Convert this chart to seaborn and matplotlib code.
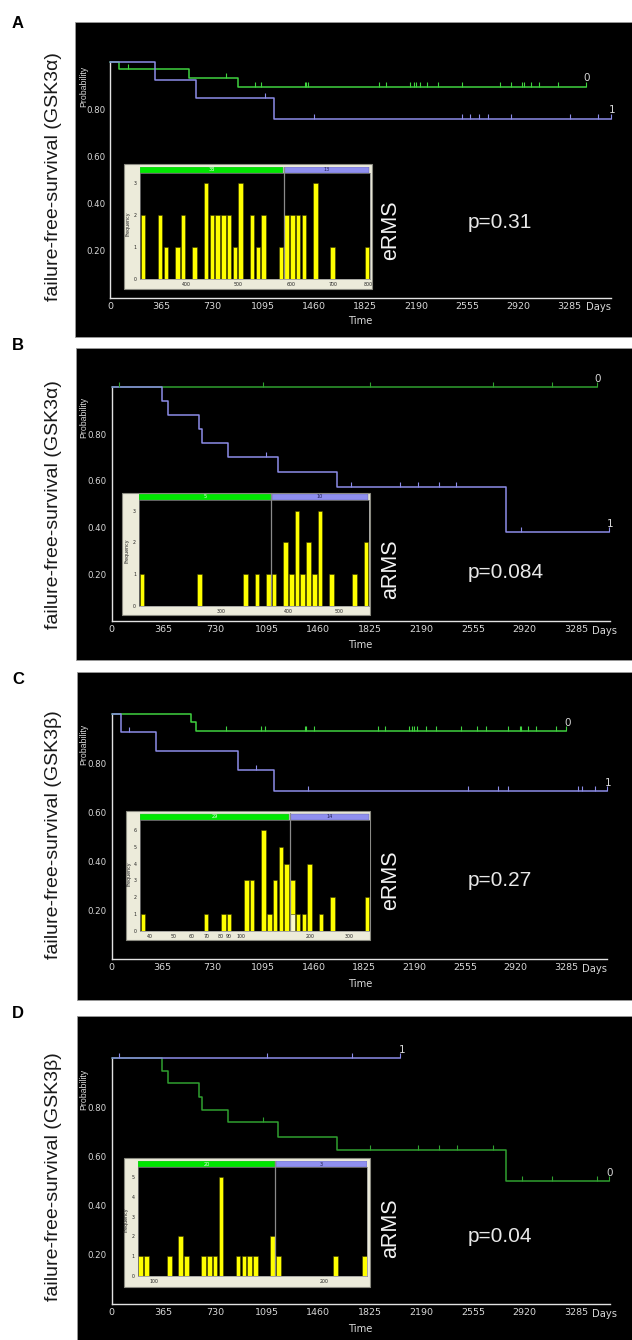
import numpy as np
import matplotlib
matplotlib.use("Agg")
import matplotlib.pyplot as plt
from matplotlib.patches import Rectangle
from matplotlib.markers import TICKUP
import seaborn as sns

# ============================ DATA ============================
DAY_TICKS = [0, 365, 730, 1095, 1460, 1825, 2190, 2555, 2920, 3285]
PROB_TICKS = [0.2, 0.4, 0.6, 0.8]
PROB_LABELS = ["0.20", "0.40", "0.60", "0.80"]
PROB_MINOR = [0.1, 0.3, 0.5, 0.7, 0.9]

# ---- Panel A : eRMS, GSK3alpha ----
A_G_EVENTS = [66, 568, 916]
A_G_SURV = [1.0, 0.969, 0.933, 0.896]
A_G_END = 3400
A_G_CENS = [127, 827, 1040, 1081, 1395, 1403, 1415, 1922, 1971, 2147, 2173, 2190,
            2213, 2268, 2346, 2518, 2787, 2864, 2948, 2959, 3011, 3069, 3204, 3400]
A_B_EVENTS = [323, 614, 1173]
A_B_SURV = [1.0, 0.923, 0.847, 0.760]
A_B_END = 3579
A_B_CENS = [1109, 1458, 2518, 2576, 2640, 2703, 2870, 3288, 3490, 3579]
A_HIST_BIN = [0, 3, 4, 6, 7, 9, 11, 12, 13, 14, 15, 16, 17, 19, 20, 21, 24,
              25, 26, 27, 28, 30, 33, 39]
A_HIST_COUNT = [2, 2, 1, 1, 2, 1, 3, 2, 2, 2, 2, 1, 3, 2, 1, 2, 1,
                2, 2, 2, 2, 3, 1, 1]
A_HIST_SPLIT = 25
A_HIST_N = ["38", "13"]
A_HIST_TICKPOS = [8.0, 17.1, 26.3, 33.5, 39.6]
A_HIST_TICKLAB = ["400", "500", "600", "700", "800"]
A_HIST_YTICKS = [0, 1, 2, 3]
A_GENE = "failure-free-survival (GSK3\u03b1)"
A_TYPE = "eRMS"
A_P = "p=0.31"

# ---- Panel B : aRMS, GSK3alpha ----
B_G_EVENTS = []
B_G_SURV = [1.0]
B_G_END = 3428
B_G_CENS = [54, 1068, 1827, 2693, 3109, 3428]
B_B_EVENTS = [356, 396, 618, 641, 823, 1174, 1596, 2789]
B_B_SURV = [1.0, 0.940, 0.880, 0.820, 0.763, 0.704, 0.639, 0.574, 0.381]
B_B_END = 3513
B_B_CENS = [1091, 1695, 2040, 2165, 2311, 2436, 2892, 3513]
B_HIST_BIN = [0, 10, 18, 20, 22, 23, 25, 26, 27, 28, 29, 30, 31, 33, 37, 39]
B_HIST_COUNT = [1, 1, 1, 1, 1, 1, 2, 1, 3, 1, 2, 1, 3, 1, 1, 2]
B_HIST_SPLIT = 23
B_HIST_N = ["5", "10"]
B_HIST_TICKPOS = [14.2, 25.9, 34.8]
B_HIST_TICKLAB = ["300", "400", "500"]
B_HIST_YTICKS = [0, 1, 2, 3]
B_GENE = "failure-free-survival (GSK3\u03b1)"
B_TYPE = "aRMS"
B_P = "p=0.084"

# ---- Panel C : eRMS, GSK3beta ----
C_G_EVENTS = [571, 612]
C_G_SURV = [1.0, 0.966, 0.931]
C_G_END = 3286
C_G_CENS = [824, 1081, 1107, 1395, 1407, 1459, 1923, 1975, 2150, 2167, 2185, 2208,
            2269, 2345, 2523, 2639, 2703, 2864, 2948, 2957, 3009, 3067, 3207, 3286]
C_B_EVENTS = [67, 320, 915, 1174]
C_B_SURV = [1.0, 0.928, 0.849, 0.771, 0.686]
C_B_END = 3577
C_B_CENS = [125, 1040, 1422, 2578, 2788, 2864, 3368, 3400, 3490, 3577]
C_HIST_BIN = [0, 11, 14, 15, 18, 19, 21, 22, 23, 24, 25, 26, 27, 28, 29, 31, 33, 39]
C_HIST_COUNT = [1, 1, 1, 1, 3, 3, 6, 1, 3, 5, 4, 3, 1, 1, 4, 1, 2, 2]
C_HIST_HL_BIN = [26]
C_HIST_HL_COUNT = [1]
C_HIST_SPLIT = 26
C_HIST_N = ["29", "14"]
C_HIST_TICKPOS = [1.7, 5.8, 8.9, 11.5, 14.0, 15.5, 17.6, 29.6, 36.4]
C_HIST_TICKLAB = ["40", "50", "60", "70", "80", "90", "100", "200", "300"]
C_HIST_YTICKS = [0, 1, 2, 3, 4, 5, 6]
C_GENE = "failure-free-survival (GSK3\u03b2)"
C_TYPE = "eRMS"
C_P = "p=0.27"

# ---- Panel D : aRMS, GSK3beta ----
D_G_EVENTS = [356, 396, 618, 641, 823, 1174, 1596, 2789]
D_G_SURV = [1.0, 0.949, 0.899, 0.842, 0.791, 0.739, 0.681, 0.626, 0.500]
D_G_END = 3513
D_G_CENS = [1068, 1827, 2168, 2311, 2439, 2693, 2898, 3109, 3428, 3513]
D_B_EVENTS = []
D_B_SURV = [1.0]
D_B_END = 2040
D_B_CENS = [54, 1097, 1698, 2040]
D_HIST_BIN = [0, 1, 5, 7, 8, 11, 12, 13, 14, 17, 18, 19, 20, 23, 24, 34, 39]
D_HIST_COUNT = [1, 1, 1, 2, 1, 1, 1, 1, 5, 1, 1, 1, 1, 2, 1, 1, 1]
D_HIST_SPLIT = 24
D_HIST_N = ["20", "3"]
D_HIST_TICKPOS = [2.9, 32.4]
D_HIST_TICKLAB = ["100", "200"]
D_HIST_YTICKS = [0, 1, 2, 3, 4, 5]
D_GENE = "failure-free-survival (GSK3\u03b2)"
D_TYPE = "aRMS"
D_P = "p=0.04"

N_BINS = 40

# ============================ STYLE ============================
sns.set_theme(style="white")
plt.rcParams['font.family'] = ['Liberation Sans', 'DejaVu Sans']
NARROW = ['Liberation Sans Narrow', 'DejaVu Sans Condensed', 'DejaVu Sans']

W, H = 632, 1340
fig = plt.figure(figsize=(W / 100, H / 100), dpi=100)
fig.patch.set_facecolor('white')

AXC = '#e2e2e2'
TXC = '#d8d8d8'
BLUE = '#8c8ce8'
GREEN_BRIGHT = '#3fd23f'
GREEN_DARK = '#2fa02f'
YEL = '#ffff00'
STRIP_G = '#00e600'
STRIP_B = '#8f8fef'


def frect(x0, y0, x1, y1):
    return [x0 / W, 1 - y1 / H, (x1 - x0) / W, (y1 - y0) / H]


def ftext(x, y, s, **kw):
    fig.text(x / W, 1 - y / H, s, **kw)


def fpatch(x0, y0, x1, y1, **kw):
    r = Rectangle((x0 / W, 1 - y1 / H), (x1 - x0) / W, (y1 - y0) / H,
                  transform=fig.transFigure, **kw)
    fig.patches.append(r)


# layout (pixels, top-left origin)
LAYOUT = {
    'A': dict(bg=(75, 22, 632, 337), letter=(18, 23), ax=(110.0, 62.0, 610.6, 297.7), xend=3579,
              box=(124, 164, 372, 289), inner=(140, 173.3, 370, 279), strip=(166.5, 173.3), ytop=3.3,
              gene_y=177, type_y=230, p=(468, 222), prob_y=86, time_y=321, days=(598.5, 307),
              green=GREEN_BRIGHT, freq_x=128),
    'B': dict(bg=(75.5, 348, 632, 660), letter=(18, 345), ax=(111.6, 387.3, 609.7, 621.3), xend=3520,
              box=(122, 492.7, 370, 615), inner=(139.3, 500, 368.7, 606), strip=(493.5, 500), ytop=3.33,
              gene_y=505, type_y=569, p=(467.5, 573), prob_y=417, time_y=645, days=(604.6, 631),
              green=GREEN_DARK, freq_x=127),
    'C': dict(bg=(76.5, 672, 632, 1000), letter=(18, 680), ax=(111.6, 714.0, 606.6, 959.3), xend=3576,
              box=(126, 810.7, 370, 940), inner=(140, 820, 370, 930.7), strip=(813.3, 820), ytop=6.6,
              gene_y=835, type_y=880, p=(467.5, 880), prob_y=744, time_y=984, days=(594.5, 969),
              green=GREEN_BRIGHT, freq_x=129),
    'D': dict(bg=(76.5, 1015.7, 632, 1340), letter=(18, 1013), ax=(111.6, 1058.3, 609.7, 1304.0), xend=3520,
              box=(123.7, 1157.7, 370, 1286.7), inner=(137.7, 1167.3, 367.3, 1275.7), strip=(1161, 1167.3), ytop=5.5,
              gene_y=1177, type_y=1228, p=(467.5, 1237), prob_y=1089, time_y=1329, days=(604.6, 1314),
              green=GREEN_DARK, freq_x=126),
}

PANELS = {
    'A': dict(g=(A_G_EVENTS, A_G_SURV, A_G_END, A_G_CENS), b=(A_B_EVENTS, A_B_SURV, A_B_END, A_B_CENS),
              hist=(A_HIST_BIN, A_HIST_COUNT, A_HIST_SPLIT, A_HIST_N, A_HIST_TICKPOS, A_HIST_TICKLAB, A_HIST_YTICKS),
              hl=None, gene=A_GENE, typ=A_TYPE, p=A_P),
    'B': dict(g=(B_G_EVENTS, B_G_SURV, B_G_END, B_G_CENS), b=(B_B_EVENTS, B_B_SURV, B_B_END, B_B_CENS),
              hist=(B_HIST_BIN, B_HIST_COUNT, B_HIST_SPLIT, B_HIST_N, B_HIST_TICKPOS, B_HIST_TICKLAB, B_HIST_YTICKS),
              hl=None, gene=B_GENE, typ=B_TYPE, p=B_P),
    'C': dict(g=(C_G_EVENTS, C_G_SURV, C_G_END, C_G_CENS), b=(C_B_EVENTS, C_B_SURV, C_B_END, C_B_CENS),
              hist=(C_HIST_BIN, C_HIST_COUNT, C_HIST_SPLIT, C_HIST_N, C_HIST_TICKPOS, C_HIST_TICKLAB, C_HIST_YTICKS),
              hl=(C_HIST_HL_BIN, C_HIST_HL_COUNT), gene=C_GENE, typ=C_TYPE, p=C_P),
    'D': dict(g=(D_G_EVENTS, D_G_SURV, D_G_END, D_G_CENS), b=(D_B_EVENTS, D_B_SURV, D_B_END, D_B_CENS),
              hist=(D_HIST_BIN, D_HIST_COUNT, D_HIST_SPLIT, D_HIST_N, D_HIST_TICKPOS, D_HIST_TICKLAB, D_HIST_YTICKS),
              hl=None, gene=D_GENE, typ=D_TYPE, p=D_P),
}


def km_curve(ax, events, surv, end, cens, color, label):
    t = [0] + list(events) + [end]
    s = list(surv) + [surv[-1]]
    sns.lineplot(x=t, y=s, drawstyle='steps-post', color=color, linewidth=1.1,
                 ax=ax, clip_on=False, zorder=3)
    idx = np.searchsorted(np.asarray(events, dtype=float), np.asarray(cens, dtype=float), side='right')
    cy = np.asarray(surv)[idx]
    sns.scatterplot(x=cens, y=cy, marker=TICKUP, s=11, color=color, linewidth=0.8,
                    ax=ax, clip_on=False, legend=False, zorder=4)
    ax.annotate(label, (end, surv[-1]), xytext=(1, 6), textcoords='offset points',
                ha='center', va='center', color=TXC, fontsize=7.5, family=NARROW)


for key in ['A', 'B', 'C', 'D']:
    L = LAYOUT[key]
    P = PANELS[key]

    # black panel background
    x0, y0, x1, y1 = L['bg']
    fpatch(x0, y0, x1, y1, facecolor='black', edgecolor='#9a9a9a', lw=0.6, zorder=-5)

    # panel letter and labels outside
    ftext(*L['letter'], key, ha='center', va='center', fontsize=12, fontweight='bold', color='black')
    ftext(54, L['gene_y'], P['gene'], rotation=90, ha='center', va='center', fontsize=14, color='#1a1a1a')

    # main KM axes
    ax0, ay0, ax1, ay1 = L['ax']
    ax = fig.add_axes(frect(ax0, ay0, ax1, ay1), zorder=1)
    ax.set_facecolor('none')
    km_curve(ax, *P['g'], color=L['green'], label='0')
    km_curve(ax, *P['b'], color=BLUE, label='1')
    ax.set_xlim(0, L['xend'])
    ax.set_ylim(0, 1.0)
    for sp in ['top', 'right']:
        ax.spines[sp].set_visible(False)
    for sp in ['left', 'bottom']:
        ax.spines[sp].set_color(AXC)
        ax.spines[sp].set_linewidth(1.0)
    ax.set_xticks(DAY_TICKS)
    ax.set_xticklabels([str(d) for d in DAY_TICKS], fontsize=6.8, color=TXC, family=NARROW)
    ax.set_yticks(PROB_TICKS)
    ax.set_yticklabels(PROB_LABELS, fontsize=6.2, color=TXC, family=NARROW)
    ax.set_yticks(PROB_MINOR, minor=True)
    ax.tick_params(axis='x', direction='in', length=3.5, width=0.9, color=AXC, pad=3)
    ax.tick_params(axis='y', which='major', direction='out', length=2.5, width=0.9, color=AXC, pad=1)
    ax.tick_params(axis='y', which='minor', direction='in', length=2.5, width=0.9, color=AXC)
    ax.set_xlabel('')
    ax.set_ylabel('')
    ax.grid(False)

    ftext(84, L['prob_y'], 'Probability', rotation=90, ha='center', va='center',
          fontsize=6.3, color=TXC, family=['Liberation Sans', 'DejaVu Sans'])
    ftext(360, L['time_y'], 'Time', ha='center', va='center', fontsize=7.2, color=TXC, family=NARROW)
    ftext(*L['days'], 'Days', ha='center', va='center', fontsize=7.2, color=TXC, family=NARROW)
    ftext(391, L['type_y'], P['typ'], rotation=90, ha='center', va='center', fontsize=15.5, color='#f2f2f2')
    ftext(L['p'][0], L['p'][1], P['p'], ha='left', va='center', fontsize=15, color='#e8e8e8')

    # ---------------- inset histogram ----------------
    bx0, by0, bx1, by1 = L['box']
    fpatch(bx0, by0, bx1, by1, facecolor='#ecebda', edgecolor='#8a8a80', lw=0.8, zorder=2)

    bins, counts, split, nlab, tpos, tlab, yt = P['hist']
    ix0, iy0, ix1, iy1 = L['inner']
    hax = fig.add_axes(frect(ix0, iy0, ix1, iy1), zorder=3)
    hax.set_facecolor('black')
    sns.barplot(x=[b + 0.5 for b in bins], y=counts, native_scale=True, color=YEL, saturation=1,
                edgecolor='#3a3a00', linewidth=0.4, width=0.8, errorbar=None, ax=hax)
    if P['hl'] is not None:
        hb, hc = P['hl']
        sns.barplot(x=[b + 0.5 for b in hb], y=hc, native_scale=True, color='#fbf8c8', saturation=1,
                    edgecolor='#3a3a00', linewidth=0.4, width=0.8, errorbar=None, ax=hax)
    hax.axvline(split, color='#8a8a8a', lw=0.9)
    hax.set_xlim(0, N_BINS)
    hax.set_ylim(0, L['ytop'])
    hax.set_xticks(tpos)
    hax.set_xticklabels(tlab, fontsize=3.4, color='#222222', family=NARROW)
    hax.set_yticks(yt)
    hax.set_yticklabels([str(v) for v in yt], fontsize=3.4, color='#222222', family=NARROW)
    hax.tick_params(axis='both', direction='out', length=1.5, width=0.4, color='#444444', pad=0.8)
    hax.set_xlabel('')
    hax.set_ylabel('')
    for sp in hax.spines.values():
        sp.set_color('#8a8a8a')
        sp.set_linewidth(0.5)
    hax.grid(False)
    ftext(L['freq_x'], (iy0 + iy1) / 2 - 2, 'Frequency', rotation=90, ha='center', va='center',
          fontsize=3.4, color='#222222', family=NARROW)

    # group strip on top of the histogram
    sy0, sy1 = L['strip']
    sax = fig.add_axes(frect(ix0, sy0, ix1, sy1), zorder=3)
    sax.set_xlim(0, N_BINS)
    sax.set_ylim(0, 1)
    sax.axis('off')
    sax.add_patch(Rectangle((0, 0.05), split - 0.08, 0.9, facecolor=STRIP_G, edgecolor='#60a060', lw=0.3))
    sax.add_patch(Rectangle((split + 0.12, 0.05), N_BINS - split - 0.25, 0.9, facecolor=STRIP_B,
                            edgecolor='#6060a0', lw=0.3))
    sax.axvline(split, color='#8a8a8a', lw=0.9)
    sax.text(split / 2, 0.5, nlab[0], ha='center', va='center', fontsize=3.6, color='#e8ffe8', family=NARROW)
    sax.text((split + N_BINS) / 2, 0.5, nlab[1], ha='center', va='center', fontsize=3.6, color='#202050',
             family=NARROW)

fig.savefig('out.png', dpi=100, facecolor='white')
